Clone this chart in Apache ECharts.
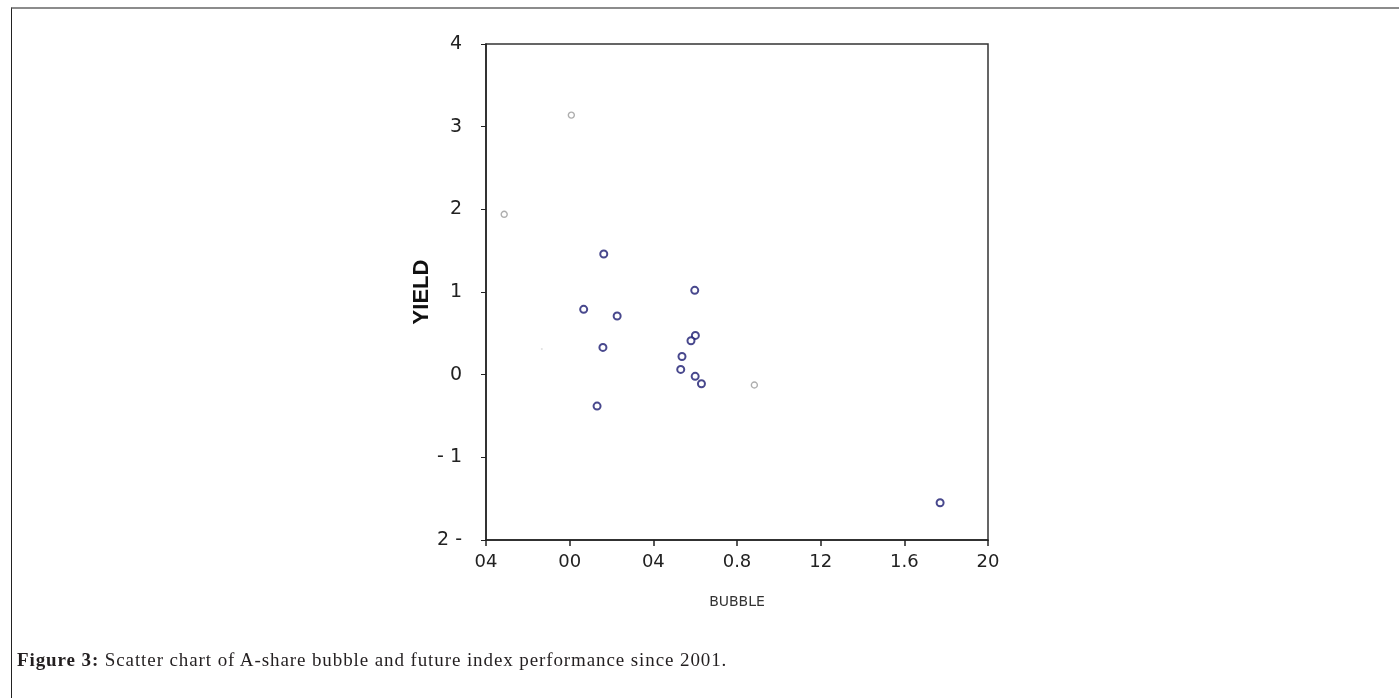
<!DOCTYPE html>
<html>
<head>
<meta charset="utf-8">
<script src="https://cdn.jsdelivr.net/npm/echarts@6/dist/echarts.min.js"></script>
<style>
  html, body { margin: 0; padding: 0; background: #fff; }
  #frame {
    position: absolute; left: 11px; top: 7px; width: 1388px; height: 691px;
    border-top: 2px solid #8c8c8c; border-left: 1px solid #222;
  }
  #chart { position: absolute; left: 0; top: 0; width: 1399px; height: 698px; }
  #caption {
    position: absolute; left: 17px; top: 649px; letter-spacing: 0.9px;
    font-family: "Liberation Serif", "DejaVu Serif", serif; font-size: 19px; color: #231f20;
  }
</style>
</head>
<body>
<div id="frame"></div>
<div id="chart"></div>
<div id="caption"><b>Figure 3:</b> Scatter chart of A-share bubble and future index performance since 2001.</div>
<script>
// 坐标轴刻度（原图标签照抄）
const xTickLabels = ['04', '00', '04', '0.8', '12', '1.6', '20'];
const yTickLabels = ['2 -', '- 1', '0', '1', '2', '3', '4'];

// 蓝色点 [BUBBLE, YIELD]
const bluePoints = [
  [0.163, 1.46],
  [0.598, 1.02],
  [0.067, 0.79],
  [0.227, 0.71],
  [0.601, 0.475],
  [0.580, 0.41],
  [0.159, 0.33],
  [0.537, 0.22],
  [0.531, 0.064],
  [0.600, -0.02],
  [0.630, -0.11],
  [0.131, -0.38],
  [1.771, -1.55]
];
// 灰色点
const grayPoints = [
  [0.008, 3.14],
  [-0.313, 1.94],
  [0.883, -0.125]
];
// 极淡的点
const faintPoints = [
  [-0.133, 0.31]
];

const xMin = -0.4, xMax = 2.0, xStep = 0.4;
const yMin = -2, yMax = 4, yStep = 1;

const chart = echarts.init(document.getElementById('chart'));

const axisText = { fontFamily: 'DejaVu Sans', fontSize: 18, color: '#222' };

chart.setOption({
  animation: false,
  grid: {
    left: 486, top: 44, right: 411, bottom: 158,
    show: true, borderColor: '#333', borderWidth: 1.5, backgroundColor: 'transparent'
  },
  xAxis: {
    type: 'value',
    min: xMin, max: xMax, interval: xStep,
    name: 'BUBBLE',
    nameLocation: 'middle',
    nameGap: 55,
    nameTextStyle: { fontFamily: 'DejaVu Sans', fontSize: 14, color: '#333' },
    axisLine: { onZero: false, lineStyle: { color: '#222', width: 1.5 } },
    axisTick: { show: true, length: 6, lineStyle: { color: '#222', width: 1.5 } },
    axisLabel: Object.assign({
      margin: 13,
      formatter: v => xTickLabels[Math.round((v - xMin) / xStep)]
    }, axisText),
    splitLine: { show: false }
  },
  yAxis: {
    type: 'value',
    min: yMin, max: yMax, interval: yStep,
    name: 'YIELD',
    nameLocation: 'middle',
    nameGap: 52,
    nameRotate: 90,
    nameTextStyle: { fontFamily: 'Liberation Sans', fontWeight: 'bold', fontSize: 22, color: '#111' },
    axisLine: { onZero: false, lineStyle: { color: '#222', width: 1.5 } },
    axisTick: { show: true, length: 5, lineStyle: { color: '#222', width: 1 } },
    axisLabel: Object.assign({
      margin: 24,
      formatter: v => yTickLabels[Math.round((v - yMin) / yStep)]
    }, axisText, { fontSize: 19 }),
    splitLine: { show: false }
  },
  series: [
    {
      name: 'blue',
      type: 'scatter',
      symbol: 'circle',
      symbolSize: 7,
      itemStyle: { color: '#fff', borderColor: '#1a1a70', borderWidth: 2 },
      data: bluePoints
    },
    {
      name: 'gray',
      type: 'scatter',
      symbol: 'circle',
      symbolSize: 6,
      itemStyle: { color: '#fff', borderColor: '#9a9a9a', borderWidth: 1.4 },
      data: grayPoints
    },
    {
      name: 'faint',
      type: 'scatter',
      symbol: 'circle',
      symbolSize: 2,
      itemStyle: { color: '#d8d8d8' },
      data: faintPoints
    }
  ]
});
</script>
</body>
</html>
